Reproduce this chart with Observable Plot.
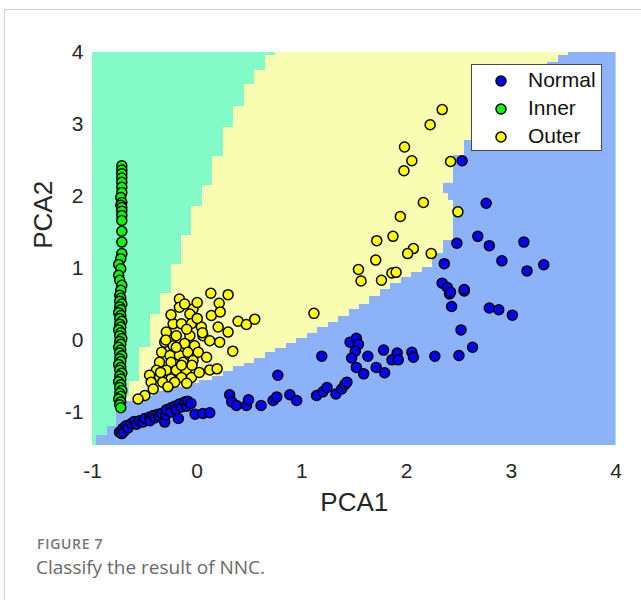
<!DOCTYPE html>
<html><head><meta charset="utf-8">
<script src="https://cdn.jsdelivr.net/npm/d3@7"></script>
<script src="https://cdn.jsdelivr.net/npm/@observablehq/plot@0.6"></script>
<style>
body{margin:0;background:#fff;}
#wrap{position:relative;width:641px;height:600px;overflow:hidden;font-family:"Liberation Sans",Arial,sans-serif;}
#frame{position:absolute;left:4px;top:9px;width:700px;height:700px;border:1px solid #cfcfcf;}
#chart{position:absolute;left:0;top:0;}
#legend{position:absolute;left:471px;top:64px;width:131px;height:87px;background:#fff;border:1px solid #4a4a4a;box-sizing:border-box;}
.lrow{position:absolute;left:0;height:28px;width:130px;}
.lrow svg{position:absolute;left:22px;top:7px;}
.lrow span{position:absolute;left:56px;top:1px;font-size:21px;line-height:24px;color:#111;}
#fig{position:absolute;left:37px;top:537px;font-family:"Open Sans",sans-serif;font-weight:600;font-size:14px;line-height:14px;color:#777;letter-spacing:0.7px;}
#cap{position:absolute;left:36px;top:557.5px;font-family:"Open Sans",sans-serif;font-size:19px;line-height:19px;color:#6a6a6a;}
</style></head>
<body>
<div id="wrap">
<div id="frame"></div>
<div id="chart"></div>
<div id="legend"></div>
<div id="fig">FIGURE 7</div>
<div id="cap">Classify the result of NNC.</div>
</div>
<script>
// ---- data ----
const xTicks = [-1, 0, 1, 2, 3, 4];
const yTicks = [-1, 0, 1, 2, 3, 4];
const classNames = ["Normal", "Inner", "Outer"];
const classColors = ["#0000ff", "#00ff00", "#ffff00"];
const regionColors = {Inner: "#83fbc9", Outer: "#f9fdb1", Normal: "#8cb3fa"};

// decision region rows: [yLow, yHigh, x where Inner region ends]
const innerRegionRows = [
  [3.95,4.0,0.75],[3.75,3.95,0.65],[3.55,3.75,0.55],[3.25,3.55,0.45],[2.95,3.25,0.35],
  [2.55,2.95,0.25],[2.15,2.55,0.15],[1.85,2.15,0.05],[1.45,1.85,-0.05],[1.05,1.45,-0.15],
  [0.65,1.05,-0.25],[0.35,0.65,-0.35],[-0.1,0.35,-0.45],[-0.58,-0.1,-0.55],[-0.78,-0.58,-0.65],
  [-0.95,-0.78,-0.70],[-1.2,-0.95,-0.77],[-1.33,-1.2,-0.86],[-1.5,-1.33,-0.96]
];
// decision region rows: [yLow, yHigh, x where Normal region starts]
const normalRegionRows = [
  [-1.5,-1.33,-0.96],[-1.33,-1.2,-0.86],[-1.2,-0.95,-0.77],[-0.95,-0.85,-0.68],[-0.85,-0.78,-0.55],
  [-0.78,-0.72,-0.42],[-0.72,-0.66,-0.28],[-0.66,-0.61,-0.12],[-0.61,-0.56,0.02],[-0.56,-0.5,0.15],
  [-0.5,-0.44,0.25],[-0.44,-0.37,0.35],[-0.37,-0.32,0.45],[-0.32,-0.25,0.55],[-0.25,-0.17,0.65],
  [-0.17,-0.12,0.75],[-0.12,-0.05,0.85],[-0.05,0.02,0.95],[0.02,0.09,1.05],[0.09,0.17,1.15],
  [0.17,0.25,1.25],[0.25,0.33,1.35],[0.33,0.42,1.45],[0.42,0.5,1.55],[0.5,0.6,1.65],
  [0.6,0.7,1.75],[0.7,0.78,1.85],[0.78,0.87,1.95],[0.87,0.94,2.05],[0.94,1.01,2.15],
  [1.01,1.2,2.25],[1.2,1.38,2.35],[1.38,1.94,2.45],[1.94,2.03,2.40],[2.03,2.17,2.35],
  [2.17,2.56,2.45],[2.56,2.77,2.55],[2.77,3.0,2.7],[3.0,3.25,2.85],[3.25,3.5,3.0],
  [3.5,3.7,3.15],[3.7,3.85,3.35],[3.85,3.95,3.45],[3.95,4.0,3.55]
];

const innerPts = [
  [-0.72,2.42],[-0.72,2.36],[-0.72,2.31],[-0.72,2.25],[-0.72,2.19],[-0.72,2.12],[-0.72,2.05],[-0.73,1.98],
  [-0.72,1.91],[-0.73,1.87],[-0.72,1.84],[-0.72,1.79],[-0.72,1.73],[-0.72,1.66],[-0.72,1.51],[-0.72,1.36],
  [-0.72,1.20],[-0.73,1.13],[-0.75,1.05],[-0.73,0.99],[-0.75,0.90],[-0.74,0.83],[-0.72,0.76],[-0.73,0.69],
  [-0.74,0.62],[-0.73,0.58],[-0.74,0.54],[-0.72,0.50],[-0.74,0.46],[-0.73,0.42],[-0.75,0.38],[-0.73,0.34],
  [-0.74,0.30],[-0.72,0.26],[-0.74,0.22],[-0.73,0.18],[-0.75,0.14],[-0.73,0.10],[-0.74,0.06],[-0.72,0.02],
  [-0.74,-0.02],[-0.73,-0.06],[-0.75,-0.10],[-0.73,-0.14],[-0.74,-0.18],[-0.72,-0.22],[-0.74,-0.26],
  [-0.73,-0.30],[-0.75,-0.34],[-0.73,-0.38],[-0.74,-0.42],[-0.72,-0.46],[-0.74,-0.50],[-0.73,-0.54],
  [-0.75,-0.58],[-0.73,-0.62],[-0.74,-0.66],[-0.72,-0.70],[-0.74,-0.74],[-0.73,-0.78],[-0.75,-0.82],
  [-0.73,-0.86],[-0.74,-0.90],[-0.73,-0.94]
];

const outerPts = [
  [2.34,3.20],[2.225,2.99],[1.98,2.68],[2.05,2.49],[1.975,2.35],[2.42,2.48],[2.16,1.91],[2.49,1.78],
  [1.94,1.715],[1.715,1.38],[1.87,1.44],[2.065,1.27],[2.01,1.20],[2.235,1.20],[1.705,1.11],[1.54,0.98],
  [1.565,0.82],[1.76,0.83],[1.86,0.93],[1.90,0.94],[1.115,0.37],
  [0.13,0.65],[0.295,0.63],[0.21,0.51],[-0.17,0.57],[-0.17,0.455],[-0.04,0.43],[-0.07,0.36],[0.135,0.34],
  [0.22,0.39],[0.39,0.26],[0.47,0.215],[0.55,0.29],[-0.23,0.225],[-0.15,0.225],[-0.055,0.23],[0.04,0.18],
  [0.20,0.18],[0.295,0.11],[-0.295,0.11],[-0.20,0.06],[-0.07,0.06],[0.055,0.06],[0.12,-0.01],[0.215,-0.03],
  [0.34,-0.155],[-0.31,-0.03],[-0.23,-0.08],[-0.12,-0.05],[-0.025,-0.08],[-0.34,-0.17],[-0.26,-0.215],
  [-0.17,-0.215],[-0.09,-0.17],[0.01,-0.17],[0.09,-0.24],[-0.36,-0.31],[-0.25,-0.31],[-0.135,-0.31],
  [-0.04,-0.285],[0.12,-0.415],[0.19,-0.40],[-0.39,-0.42],[-0.295,-0.42],[-0.20,-0.42],[-0.105,-0.415],
  [-0.455,-0.49],[-0.36,-0.52],[-0.25,-0.54],[-0.15,-0.52],[-0.055,-0.52],[-0.44,-0.585],[-0.33,-0.585],
  [-0.215,-0.585],[-0.42,-0.68],[-0.50,-0.77],[-0.565,-0.82],
  [-0.30,0.00],[-0.20,-0.10],[-0.10,0.15],[0.00,0.30],[-0.25,0.35],[-0.15,-0.35],[-0.35,-0.45],
  [-0.28,-0.65],[-0.10,-0.60],[0.02,-0.45],[-0.05,-0.35],[0.05,0.10],[-0.12,0.50],[0.00,0.52]
];

const normalPts = [
  [-0.742,-1.28],[-0.72,-1.30],[-0.71,-1.23],[-0.70,-1.27],[-0.68,-1.19],[-0.66,-1.22],[-0.63,-1.16],
  [-0.60,-1.13],[-0.58,-1.17],[-0.55,-1.12],[-0.52,-1.14],[-0.50,-1.09],[-0.455,-1.07],[-0.45,-1.12],
  [-0.42,-1.05],[-0.40,-1.08],[-0.375,-1.03],[-0.36,-1.06],[-0.34,-1.02],[-0.31,-1.14],[-0.30,-1.04],
  [-0.295,-0.97],[-0.25,-0.94],[-0.25,-1.00],[-0.215,-0.92],[-0.20,-0.96],[-0.18,-1.09],[-0.17,-0.89],
  [-0.15,-0.93],[-0.12,-0.86],[-0.10,-0.92],[-0.09,-0.85],[-0.06,-0.88],[-0.02,-1.03],[0.055,-1.02],[0.12,-1.01],
  [0.31,-0.76],[0.33,-0.86],[0.375,-0.91],[0.47,-0.91],[0.49,-0.83],[0.61,-0.91],[0.725,-0.84],[0.76,-0.79],
  [0.77,-0.49],[0.885,-0.76],[0.95,-0.84],[1.14,-0.77],[1.20,-0.72],[1.24,-0.66],[1.325,-0.75],[1.38,-0.68],
  [1.41,-0.62],[1.43,-0.585],
  [1.19,-0.225],[1.46,-0.03],[1.52,0.025],[1.54,-0.06],[1.51,-0.155],[1.475,-0.25],[1.52,-0.38],[1.59,-0.47],
  [1.63,-0.225],[1.71,-0.38],[1.78,-0.14],[1.79,-0.455],[1.86,-0.275],[1.91,-0.18],[1.92,-0.275],[2.05,-0.17],
  [2.065,-0.24],[2.27,-0.225],[2.50,-0.215],[2.52,0.14],[2.63,-0.10],[2.43,0.465],[2.41,0.64],[2.55,0.68],
  [2.79,0.445],[2.88,0.42],[3.01,0.345],
  [2.53,2.49],[2.76,1.90],[2.68,1.44],[2.79,1.31],[2.48,1.345],[3.12,1.36],[2.91,1.10],[3.15,0.96],
  [3.31,1.045],[2.36,1.06],[2.34,0.79],[2.39,0.73],[2.42,0.665],[2.55,0.70]
];

const xDomain = [-1, 4];
const yDomain = [-1.465, 4];

const dotOpts = (color) => ({x: d => d[0], y: d => d[1], r: 5, fill: color, stroke: "#000", strokeWidth: 1.5});

const chart = Plot.plot({
  width: 641, height: 520,
  marginTop: 51.5, marginLeft: 92, marginRight: 25.5, marginBottom: 75,
  x: {domain: xDomain},
  y: {domain: yDomain},
  style: {fontFamily: "'Liberation Sans', Arial, sans-serif", fontSize: "21px", color: "#262626", background: "transparent"},
  marks: [
    Plot.frame({fill: regionColors.Outer, stroke: "none"}),
    Plot.rect(innerRegionRows, {x1: () => xDomain[0], x2: d => d[2], y1: d => d[0], y2: d => d[1], fill: regionColors.Inner, clip: true, shapeRendering: "crispEdges"}),
    Plot.rect(normalRegionRows, {x1: d => d[2], x2: () => xDomain[1], y1: d => d[0], y2: d => d[1], fill: regionColors.Normal, clip: true, shapeRendering: "crispEdges"}),
    Plot.dot(outerPts, dotOpts(classColors[2])),
    Plot.dot(innerPts, dotOpts(classColors[1])),
    Plot.dot(normalPts, dotOpts(classColors[0])),
    Plot.axisX(xTicks, {tickSize: 0, tickPadding: 18, fontSize: 21, tickFormat: d => String(d), label: null}),
    Plot.axisY(yTicks, {tickSize: 0, tickPadding: 9, fontSize: 21, tickFormat: d => String(d), label: null}),
    Plot.text(["PCA1"], {frameAnchor: "bottom", dy: 57, fontSize: 26, lineAnchor: "middle"}),
    Plot.text(["PCA2"], {frameAnchor: "left", dx: -49, rotate: -90, fontSize: 26, lineAnchor: "middle"})
  ]
});
document.getElementById("chart").appendChild(chart);

// legend
const legend = document.getElementById("legend");
classNames.forEach((name, i) => {
  const row = document.createElement("div");
  row.className = "lrow";
  row.style.top = (2 + i * 28) + "px";
  row.innerHTML = `<svg width="14" height="14"><circle cx="7" cy="7" r="5" fill="${classColors[i]}" stroke="#000" stroke-width="1.5"/></svg><span>${name}</span>`;
  legend.appendChild(row);
});
</script>
</body></html>
